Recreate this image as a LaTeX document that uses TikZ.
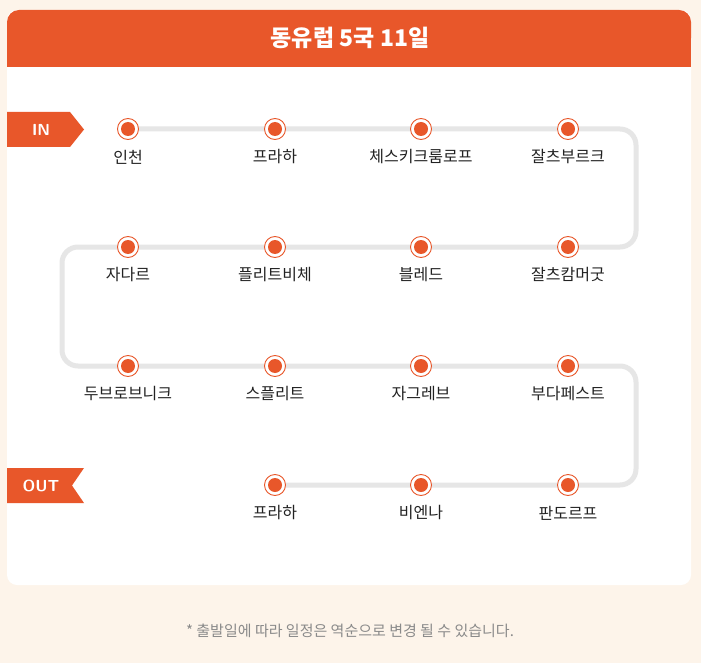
\documentclass[tikz,border=0pt]{standalone}
\usepackage{fontspec}
\usetikzlibrary{calc}
\newfontfamily\kr{Noto Sans CJK KR}
\definecolor{bg}{HTML}{FDF4EA}
\definecolor{org}{HTML}{E8572A}
\definecolor{ln}{HTML}{E6E6E6}
\definecolor{txt}{HTML}{222222}
\definecolor{ft}{HTML}{8A8A8A}
\tikzset{
  stop/.style={circle,draw=org,line width=0.9pt,fill=white,minimum size=21pt,inner sep=0pt,
    path picture={\fill[org] (path picture bounding box.center) circle (7pt);}},
  lbl/.style={font=\kr\fontsize{16}{16}\selectfont,text=txt,anchor=center},
  route/.style={draw=ln,line width=5pt,rounded corners=16pt},
  tag/.style={fill=org},
  tagtxt/.style={font=\sffamily\bfseries\fontsize{16}{16}\selectfont,text=white}
}
\begin{document}
\begin{tikzpicture}[x=1pt,y=-1pt]
\useasboundingbox (0,0) rectangle (701,663);
\fill[bg] (0,0) rectangle (701,663);
% card
\fill[white,rounded corners=10pt] (7,10) rectangle (691,585);
\fill[org,rounded corners=12pt] (7,10) rectangle (691,50);
\fill[org] (7,35) rectangle (691,67);
\node[font=\kr\bfseries\fontsize{23}{23}\selectfont,text=white] (title) at (350,38) {동유럽 5국 11일};
% coordinates of stops
\coordinate (r1a) at (128,129); \coordinate (r1b) at (275,129); \coordinate (r1c) at (421,129); \coordinate (r1d) at (568,129);
\coordinate (r2a) at (128,247); \coordinate (r2b) at (275,247); \coordinate (r2c) at (421,247); \coordinate (r2d) at (568,247);
\coordinate (r3a) at (128,366); \coordinate (r3b) at (275,366); \coordinate (r3c) at (421,366); \coordinate (r3d) at (568,366);
\coordinate (r4b) at (275,485); \coordinate (r4c) at (421,485); \coordinate (r4d) at (568,485);
% route
\draw[route] (r1a) -- (636,129) -- (636,247) -- (62,247) -- (62,366) -- (636,366) -- (636,485) -- (r4b);
% stops
\foreach \n/\t in {r1a/인천,r1b/프라하,r1c/체스키크룸로프,r1d/잘츠부르크,
  r2a/자다르,r2b/플리트비체,r2c/블레드,r2d/잘츠캄머굿,
  r3a/두브로브니크,r3b/스플리트,r3c/자그레브,r3d/부다페스트,
  r4b/프라하,r4c/비엔나,r4d/판도르프}{
  \node[stop] (s\n) at (\n) {};
  \node[lbl] (l\n) at ($(\n)+(0,28)$) {\t};
}
% IN tag
\fill[tag] (7,112) -- (70,112) -- (84,129.5) -- (70,147) -- (7,147) -- cycle;
\node[tagtxt] (in) at (41,129.5) {IN};
% OUT tag
\fill[tag] (7,468) -- (84,468) -- (72,485.5) -- (84,503) -- (7,503) -- cycle;
\node[tagtxt] (out) at (41,485.5) {OUT};
% footer
\node[font=\kr\fontsize{15}{15}\selectfont,text=ft] (foot) at (350,631) {* 출발일에 따라 일정은 역순으로 변경 될 수 있습니다.};
\end{tikzpicture}
\end{document}
